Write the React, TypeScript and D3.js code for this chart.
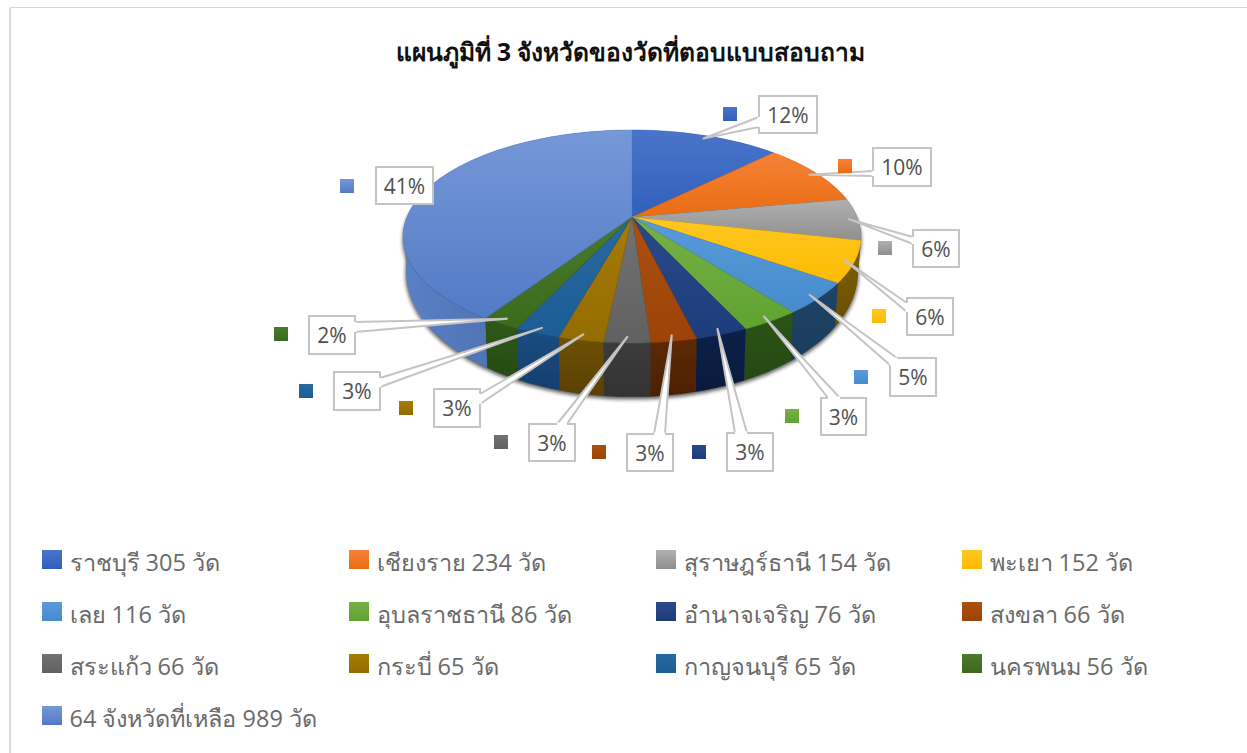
import React from "react";
import * as d3 from "d3";

const W = 1247, H = 753;
const titleText = "แผนภูมิที่ 3 จังหวัดของวัดที่ตอบแบบสอบถาม";
const provinces = ["ราชบุรี", "เชียงราย", "สุราษฎร์ธานี", "พะเยา", "เลย", "อุบลราชธานี", "อำนาจเจริญ", "สงขลา", "สระแก้ว", "กระบี่", "กาญจนบุรี", "นครพนม", "64 จังหวัดที่เหลือ"];
const temples = [305, 234, 154, 152, 116, 86, 76, 66, 66, 65, 65, 56, 989];
const percentLabels = ["12%", "10%", "6%", "6%", "5%", "3%", "3%", "3%", "3%", "3%", "3%", "2%", "41%"];
const topLight = ["#4a74c9", "#f5823a", "#b0b0b0", "#ffc721", "#5a9bd9", "#76b049", "#284a8c", "#ab500f", "#727272", "#a67c08", "#28699f", "#4a7a2b", "#7698d8"];
const topDark = ["#3060bd", "#ea6c0f", "#8f8f8f", "#fcbb00", "#458bcd", "#60a330", "#1d3c7b", "#9e4308", "#616161", "#946c00", "#1d5d96", "#3b6a1e", "#527ac6"];
const wallLight = ["#4a6fb8", "#a85a20", "#777777", "#7d6000", "#1f4468", "#2c5418", "#0c2048", "#5c2a04", "#3c3c3c", "#6e5006", "#1a4d82", "#305818", "#5a80c6"];
const wallDark = ["#30508c", "#7a3f10", "#555555", "#6b4f00", "#1a3b5c", "#254812", "#0a1a3c", "#4c2002", "#333333", "#5a4004", "#143f6e", "#264a12", "#3f6098"];

// Callout box [left, top, right, bottom], pointer base points on its edge, small key square
const boxes = [
  [759, 96, 817, 133], [873, 148, 931, 186], [913, 230, 959, 267], [907, 298, 953, 335],
  [890, 358, 936, 396], [821, 398, 866, 435], [727, 433, 773, 471], [627, 434, 673, 471],
  [529, 424, 575, 461], [434, 389, 480, 427], [334, 372, 380, 410], [309, 316, 355, 354], [376, 167, 433, 204],
];
const bases = [
  [759, 117, 759, 127], [873, 171, 873, 176], [913, 237, 913, 244], [907, 303, 907, 312],
  [890, 365, 897, 358], [828, 398, 840, 398], [735, 433, 747, 433], [654, 434, 665, 434],
  [557, 424, 567, 424], [480, 394, 480, 404], [380, 378, 380, 387], [355, 322, 355, 332], null,
];
const keys = [
  [723, 107], [838, 159], [878, 241], [872, 309], [854, 370], [785, 409], [692, 445],
  [592, 445], [494, 435], [399, 401], [299, 384], [274, 327], [340, 179],
];
const legendCols = [42, 349, 656, 962];
const legendRows = [550, 602, 654, 706];

const cx = 632;
const tilt = 0.183;
const topFace = { y: 217, a: 225.1, b: 102.9 };
const floorFace = { y: 249, a: 222.2, b: 120.8 };
const fontStack = "'Open Sans', 'Noto Sans', 'DejaVu Sans', sans-serif";

function project(face: { y: number; a: number; b: number }, angle: number, r = 1): [number, number] {
  const u = Math.sin(angle) * r;
  const v = -Math.cos(angle) * r;
  const w = 1 - tilt * v;
  return [cx + (face.a * u) / w, face.y + (face.b * v) / w];
}

function arcPts(face: any, a0: number, a1: number) {
  const n = Math.max(2, Math.ceil((a1 - a0) / 0.02));
  return d3.range(n + 1).map((i) => project(face, a0 + ((a1 - a0) * i) / n));
}

const line = d3.line();

export default function App() {
  const arcs = d3.pie<number>().sort(null).startAngle(0).endAngle(Math.PI * 2)(temples);
  const depthOrder = d3.range(arcs.length).sort(
    (p, q) =>
      Math.abs(Math.PI - (arcs[q].startAngle + arcs[q].endAngle) / 2) -
      Math.abs(Math.PI - (arcs[p].startAngle + arcs[p].endAngle) / 2)
  );
  const floor = arcPts(floorFace, 0, Math.PI * 2);
  return (
    <svg width={W} height={H} style={{ position: "absolute", left: 0, top: 0, background: "#fff" }} fontFamily={fontStack}>
      <defs>
        {temples.map((_, i) => (
          <React.Fragment key={i}>
            <linearGradient id={`top${i}`} x1="0" y1="0" x2="0" y2="1">
              <stop offset="0" stopColor={topLight[i]} />
              <stop offset="1" stopColor={topDark[i]} />
            </linearGradient>
            <linearGradient id={`wall${i}`} x1="0" y1="0" x2={i === 12 ? "1" : "0"} y2={i === 12 ? "0" : "1"}>
              <stop offset="0" stopColor={wallLight[i]} />
              <stop offset="1" stopColor={wallDark[i]} />
            </linearGradient>
          </React.Fragment>
        ))}
        <filter id="soft" x="-10%" y="-10%" width="120%" height="120%">
          <feGaussianBlur stdDeviation="2.2" />
        </filter>
      </defs>
      <path d="M1247 7.5H10V753" fill="none" stroke="#d9d9d9" />
      <path d="M10 8V753" fill="none" stroke="#d9d9d9" strokeWidth={2} />
      <text x={630.5} y={61} textAnchor="middle" fontSize={24.6} fontWeight={700} fill="#111">{titleText}</text>

      <path d={line(floor) + "Z"} fill="#111" opacity={0.8} filter="url(#soft)" transform="translate(0,2)" />
      <path d={line(arcPts(topFace, 0, Math.PI * 2)) + "Z"} fill="#111" opacity={0.75} filter="url(#soft)" transform="translate(0,4)" />

      {depthOrder.map((i) => {
        const a = arcs[i];
        const t = arcPts(topFace, a.startAngle, a.endAngle);
        const b = arcPts(floorFace, a.startAngle, a.endAngle).reverse();
        return <path key={i} d={line([...t, ...b]) + "Z"} fill={`url(#wall${i})`} />;
      })}
      {arcs.map((a, i) => (
        <path
          key={i}
          d={line([[cx, topFace.y], ...arcPts(topFace, a.startAngle, a.endAngle)]) + "Z"}
          fill={`url(#top${i})`}
          stroke={topDark[i]}
          strokeWidth={0.4}
        />
      ))}

      {arcs.map((a, i) => {
        const [l, t, r, b] = boxes[i];
        const base = bases[i];
        const tip = project(topFace, (a.startAngle + a.endAngle) / 2, 0.96);
        return (
          <g key={i}>
            <rect x={l} y={t} width={r - l} height={b - t} fill="#fff" stroke="#c4c4c4" strokeWidth={2} />
            {base && (
              <>
                <path d={line([tip, [base[0], base[1]], [base[2], base[3]]]) + "Z"} fill="#fff" stroke="#c4c4c4" strokeWidth={2} strokeLinejoin="round" />
                <path d={line([[base[0], base[1]], [base[2], base[3]]])!} stroke="#fff" strokeWidth={3} />
              </>
            )}
            <text x={(l + r) / 2} y={(t + b) / 2 + 8} textAnchor="middle" fontSize={21} fill="#505050">{percentLabels[i]}</text>
            <rect x={keys[i][0]} y={keys[i][1]} width={14} height={14} fill={`url(#top${i})`} />
          </g>
        );
      })}

      {provinces.map((p, i) => {
        const x = legendCols[i % 4];
        const y = legendRows[Math.floor(i / 4)];
        return (
          <g key={i}>
            <rect x={x} y={y} width={20} height={19} fill={`url(#top${i})`} />
            <text x={x + 27.5} y={y + 21} fontSize={23.5} fill="#6a6a6a">{`${p} ${temples[i]} วัด`}</text>
          </g>
        );
      })}
    </svg>
  );
}
